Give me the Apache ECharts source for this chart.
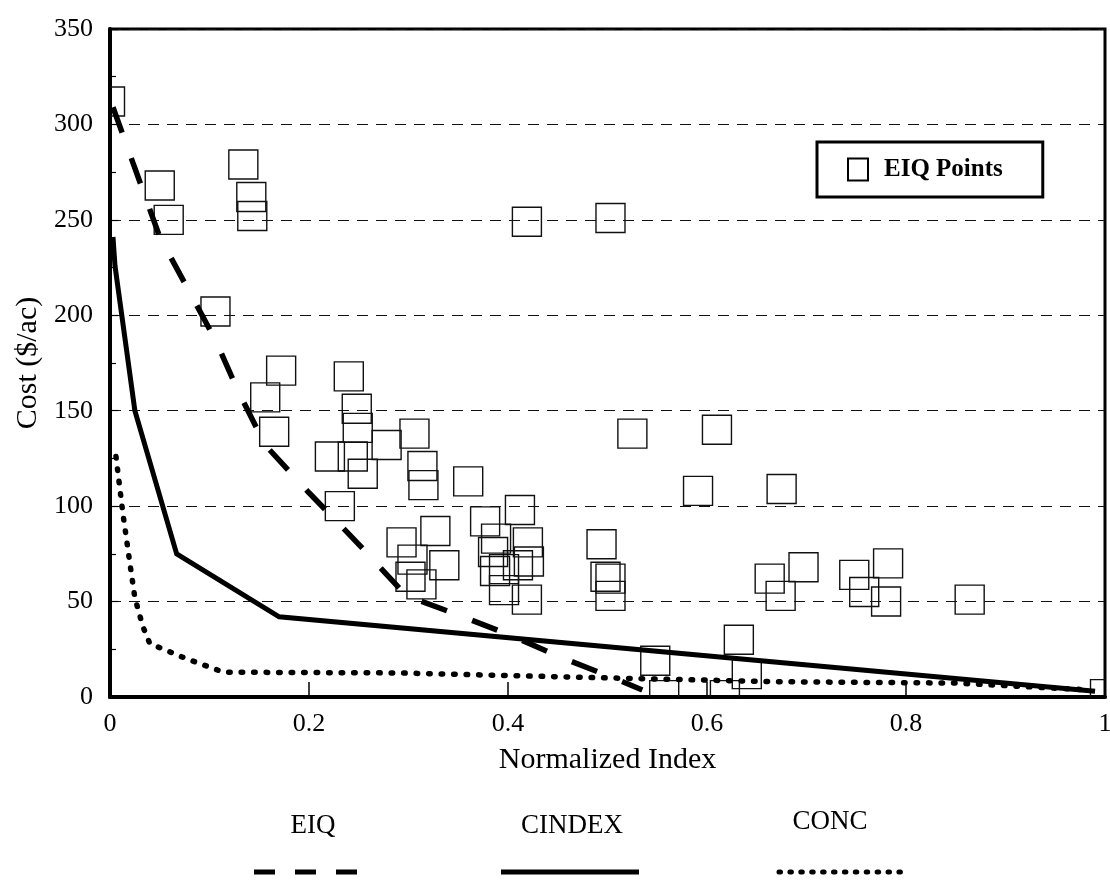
<!DOCTYPE html>
<html><head><meta charset="utf-8">
<script src="https://cdn.jsdelivr.net/npm/echarts@6/dist/echarts.min.js"></script>
<style>html,body{margin:0;padding:0;background:#fff}#c{width:1110px;height:888px}</style>
</head><body><div id="c"></div>
<script>
// ---- data ----
const xTickLabels = ['0', '0.2', '0.4', '0.6', '0.8', '1'];
const yTickLabels = ['0', '50', '100', '150', '200', '250', '300', '350'];

const pointsX = [0.0, 0.050, 0.059, 0.134, 0.142, 0.143, 0.106, 0.419, 0.503, 0.172, 0.156, 0.165, 0.240, 0.248, 0.249, 0.221, 0.244, 0.254, 0.278, 0.231, 0.306, 0.314, 0.315, 0.360, 0.525, 0.610, 0.591, 0.675, 0.293, 0.327, 0.304, 0.302, 0.313, 0.336, 0.377, 0.412, 0.388, 0.385, 0.387, 0.396, 0.410, 0.396, 0.420, 0.421, 0.419, 0.494, 0.498, 0.503, 0.503, 0.663, 0.674, 0.697, 0.748, 0.758, 0.782, 0.780, 0.864, 1.0, 0.632, 0.548, 0.557, 0.618, 0.640];
const pointsY = [312, 268, 250, 279, 262, 252, 202, 249, 251, 171, 157, 139, 168, 151, 141, 126, 126, 117, 132, 100, 138, 121, 111, 113, 138, 140, 108, 109, 81, 87, 72, 63, 59, 69, 92, 98, 83, 76, 66, 67, 69, 56, 81, 71, 51, 80, 63, 62, 53, 62, 53, 68, 64, 55, 70, 50, 51, 1.5, 30, 19, 1, 1, 12];

const eiqX = [0.003, 0.023, 0.05, 0.077, 0.106, 0.129, 0.156, 0.2, 0.25, 0.298, 0.35, 0.402, 0.452, 0.506, 0.535];
const eiqY = [309, 280, 241, 215, 187, 160, 132, 107, 80, 53, 43, 32.5, 21, 10, 3.7];

const cindexX = [0.003, 0.005, 0.025, 0.067, 0.17, 0.99];
const cindexY = [241, 226, 150, 75, 42, 3];

const concX = [0.006, 0.013, 0.02, 0.025, 0.033, 0.04, 0.077, 0.114, 0.29, 0.5, 0.67, 0.85, 0.985];
const concY = [126, 96, 70, 52, 37, 28, 20, 13, 12.6, 10, 8, 7.3, 3.7];

const seriesNames = ['EIQ', 'CINDEX', 'CONC'];
const pointsName = 'EIQ Points';

// ---- build ----
const zip = (a, b) => a.map((v, i) => [v, b[i]]);
const FONT = 'Liberation Serif';
const chart = echarts.init(document.getElementById('c'), null, {renderer: 'canvas'});

const lineBase = {type: 'line', showSymbol: false, symbol: 'none', silent: true, z: 5, animation: false};

chart.setOption({
  animation: false,
  backgroundColor: '#fff',
  grid: {left: 110, right: 5, top: 29, bottom: 191, containLabel: false, outerBoundsMode: 'none',
         show: true, borderColor: '#000', borderWidth: 3, backgroundColor: 'transparent'},
  xAxis: {
    type: 'value', min: 0, max: 1, interval: 0.2,
    name: 'Normalized Index', nameLocation: 'middle', nameGap: 48,
    nameTextStyle: {fontFamily: FONT, fontSize: 30, color: '#000'},
    axisLine: {show: true, onZero: false, lineStyle: {color: '#000', width: 4}},
    axisTick: {show: true, inside: true, length: 15, lineStyle: {color: '#000', width: 1.5}},
    axisLabel: {fontFamily: FONT, fontSize: 26, color: '#000', margin: 14,
                formatter: (v) => xTickLabels[Math.round(v / 0.2)]},
    splitLine: {show: false}
  },
  yAxis: {
    type: 'value', min: 0, max: 350, interval: 50,
    name: 'Cost ($/ac)', nameLocation: 'middle', nameGap: 66, nameRotate: 90,
    nameTextStyle: {fontFamily: FONT, fontSize: 30, color: '#000'},
    axisLine: {show: true, onZero: false, lineStyle: {color: '#000', width: 4}},
    axisTick: {show: true, inside: true, length: 8, lineStyle: {color: '#000', width: 1.2}},
    minorTick: {show: true, splitNumber: 2, length: 6, lineStyle: {color: '#000', width: 1.2}},
    axisLabel: {fontFamily: FONT, fontSize: 26, color: '#000', margin: 17,
                formatter: (v) => yTickLabels[Math.round(v / 50)]},
    splitLine: {show: true, lineStyle: {color: '#111', width: 1, type: [11, 8]}}
  },
  legend: {
    left: 817, top: 142, orient: 'horizontal',
    padding: [15, 40, 15, 30],
    backgroundColor: '#fff', borderColor: '#000', borderWidth: 3,
    itemWidth: 20, itemHeight: 22,
    textStyle: {fontFamily: FONT, fontSize: 25, fontWeight: 'bold', color: '#000', padding: [0, 0, 0, 11]},
    selectedMode: false,
    data: [{name: pointsName, icon: 'rect', itemStyle: {color: '#fff', borderColor: '#000', borderWidth: 2}}]
  },
  series: [
    {
      name: pointsName, type: 'custom', clip: true, z: 3, silent: true,
      data: zip(pointsX, pointsY),
      itemStyle: {color: '#000'},
      renderItem: function (params, api) {
        const p = api.coord([api.value(0), api.value(1)]);
        const s = 29;
        return {
          type: 'rect',
          shape: {x: p[0] - s / 2, y: p[1] - s / 2, width: s, height: s},
          style: {fill: 'none', stroke: '#111', lineWidth: 1.4}
        };
      }
    },
    Object.assign({}, lineBase, {name: seriesNames[0], data: zip(eiqX, eiqY),
      lineStyle: {color: '#000', width: 5.5, type: [27, 27], cap: 'butt'}}),
    Object.assign({}, lineBase, {name: seriesNames[1], data: zip(cindexX, cindexY),
      lineStyle: {color: '#000', width: 5, type: 'solid', join: 'miter'}}),
    Object.assign({}, lineBase, {name: seriesNames[2], data: zip(concX, concY),
      lineStyle: {color: '#000', width: 5.5, type: [1.5, 11], cap: 'round'}})
  ],
  graphic: [
    {type: 'text', style: {text: seriesNames[0], font: '27px "' + FONT + '"', fill: '#000', x: 313, y: 826, align: 'center', verticalAlign: 'middle'}},
    {type: 'text', style: {text: seriesNames[1], font: '27px "' + FONT + '"', fill: '#000', x: 572, y: 826, align: 'center', verticalAlign: 'middle'}},
    {type: 'text', style: {text: seriesNames[2], font: '27px "' + FONT + '"', fill: '#000', x: 830, y: 822, align: 'center', verticalAlign: 'middle'}},
    {type: 'line', shape: {x1: 254, y1: 872, x2: 357, y2: 872}, style: {stroke: '#000', lineWidth: 5, lineDash: [21, 20]}},
    {type: 'line', shape: {x1: 501, y1: 872, x2: 639, y2: 872}, style: {stroke: '#000', lineWidth: 5}},
    {type: 'line', shape: {x1: 779, y1: 872, x2: 908, y2: 872}, style: {stroke: '#000', lineWidth: 5, lineDash: [1.5, 9.4], lineCap: 'round'}}
  ]
});
</script></body></html>
